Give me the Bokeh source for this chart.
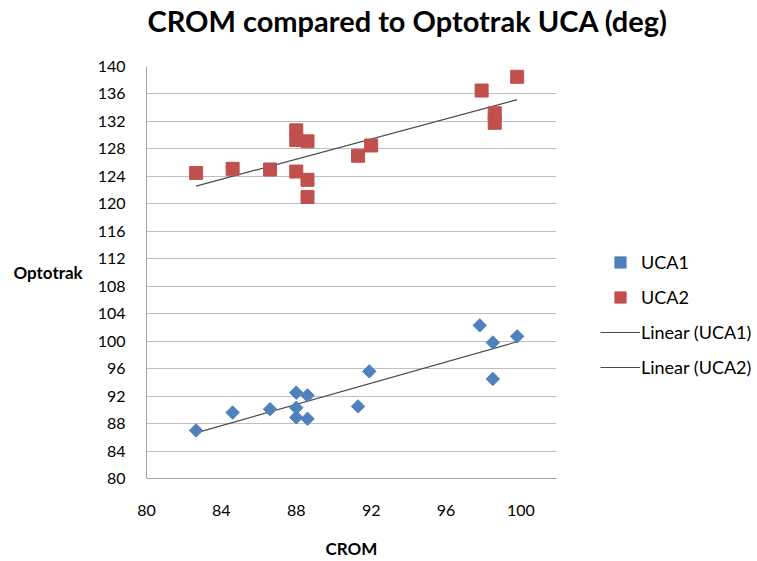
import numpy as np
from bokeh.plotting import figure
from bokeh.models import Range1d, FixedTicker, Legend, LegendItem, Title
from bokeh.embed import file_html
from bokeh.resources import INLINE

# ---- data ----
crom_uca1 = [82.65, 84.6, 86.6, 88.0, 88.0, 88.0, 88.6, 88.6, 91.3, 91.9, 97.8, 98.5, 98.5, 99.8]
opto_uca1 = [87.0, 89.6, 90.1, 92.5, 90.3, 88.9, 92.1, 88.7, 90.5, 95.6, 102.3, 99.8, 94.5, 100.7]

crom_uca2 = [82.65, 84.6, 86.6, 88.0, 88.0, 88.6, 88.0, 88.6, 88.6, 91.3, 92.0, 97.9, 98.6, 98.6, 99.8]
opto_uca2 = [124.5, 125.1, 125.0, 130.7, 129.3, 129.1, 124.7, 123.5, 121.0, 127.0, 128.5, 136.5, 133.2, 131.8, 138.5]

x_ticks = [80, 84, 88, 92, 96, 100]
y_ticks = [80, 84, 88, 92, 96, 100, 104, 108, 112, 116, 120, 124, 128, 132, 136, 140]

title_text = "CROM compared to Optotrak UCA (deg)"
x_label = "CROM"
y_label = "Optotrak"
series_names = ["UCA1", "UCA2", "Linear (UCA1)", "Linear (UCA2)"]

BLUE = "#4F81BD"
RED = "#C0504D"
FONT = "Lato"

p = figure(frame_width=410, frame_height=412, output_backend="svg", toolbar_location=None,
           x_range=Range1d(80, 101.9), y_range=Range1d(80, 140),
           min_border_left=146, min_border_right=201,
           min_border_top=66, min_border_bottom=83)
p.outline_line_color = None
p.background_fill_color = "white"
p.border_fill_color = "white"

# real title (outermost) and a blank spacer panel between it and the frame
p.title.text = title_text
p.title.align = "left"
p.title.offset = 1
p.title.text_font = FONT
p.title.text_font_style = "bold"
p.title.text_font_size = "29px"
p.title.text_color = "black"
p.title.standoff = 0
p.add_layout(Title(text=" ", text_font_size="10px", standoff=16), "above")

# axes
for ax in (p.xaxis, p.yaxis):
    ax.axis_line_color = "#A6A6A6"
    ax.major_tick_line_color = None
    ax.minor_tick_line_color = None
    ax.major_label_text_font = FONT
    ax.major_label_text_font_size = "16px"
    ax.major_label_text_color = "black"
    ax.axis_label_text_font = FONT
    ax.axis_label_text_font_style = "bold"
    ax.axis_label_text_font_size = "17px"
    ax.axis_label_text_color = "black"
p.xaxis.ticker = FixedTicker(ticks=x_ticks)
p.yaxis.ticker = FixedTicker(ticks=y_ticks)
p.xaxis.major_label_standoff = 20
p.yaxis.major_label_standoff = 15
p.xaxis.axis_label = x_label
p.xaxis.axis_label_standoff = 19
p.yaxis.axis_label = y_label
p.yaxis.axis_label_standoff = 12
yax = p.yaxis[0]
if "axis_label_orientation" in yax.properties():
    yax.axis_label_orientation = "horizontal"

p.xgrid.grid_line_color = None
p.ygrid.ticker = FixedTicker(ticks=y_ticks)
p.ygrid.grid_line_color = "#BFBFBF"
p.ygrid.grid_line_width = 1

# trend lines (least squares from the data)
def trend(xs, ys):
    k, b = np.polyfit(xs, ys, 1)
    xx = np.array([min(xs), max(xs)])
    return xx, k * xx + b

tx1, ty1 = trend(crom_uca1, opto_uca1)
tx2, ty2 = trend(crom_uca2, opto_uca2)
l1 = p.line(tx1, ty1, line_color="#4A4A4A", line_width=1.2)
l2 = p.line(tx2, ty2, line_color="#4A4A4A", line_width=1.2)

s1 = p.scatter(crom_uca1, opto_uca1, marker="square", angle=np.pi / 4, size=9.5,
               fill_color=BLUE, line_color=BLUE)
s2 = p.scatter(crom_uca2, opto_uca2, marker="square", size=13,
               fill_color=RED, line_color=RED)

legend = Legend(items=[LegendItem(label=series_names[0], renderers=[s1]),
                       LegendItem(label=series_names[1], renderers=[s2]),
                       LegendItem(label=series_names[2], renderers=[l1]),
                       LegendItem(label=series_names[3], renderers=[l2])],
                location=(44, 97), background_fill_alpha=0, border_line_color=None,
                glyph_width=40, glyph_height=28, label_height=28, spacing=7,
                padding=0, margin=0, label_standoff=1,
                label_text_font=FONT, label_text_font_size="18px", label_text_color="black")
p.add_layout(legend, "right")

open("out.html", "w").write(file_html(p, INLINE))
